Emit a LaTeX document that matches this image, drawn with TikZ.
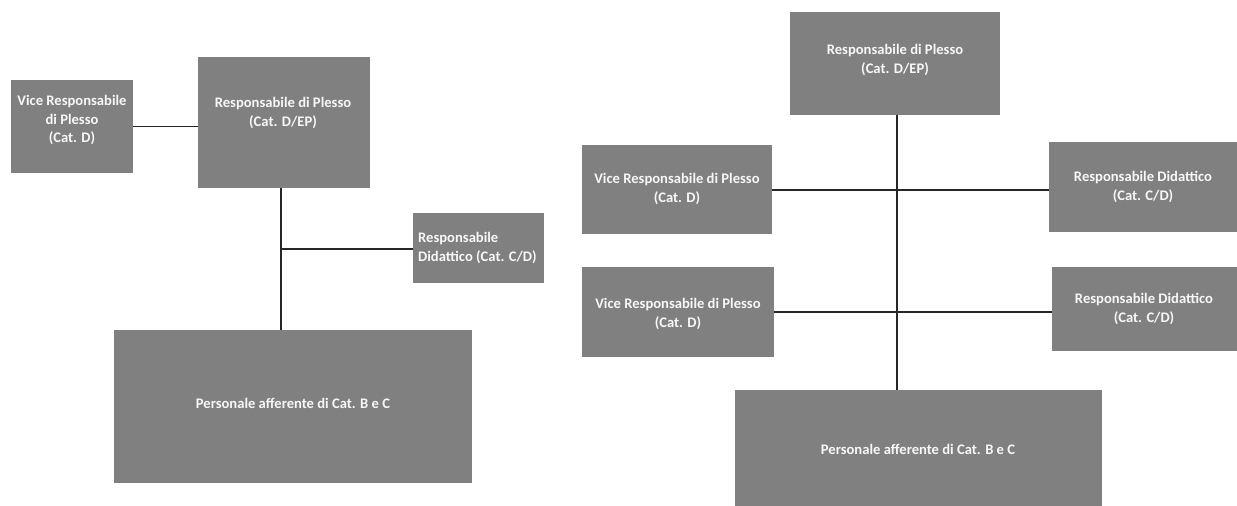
\documentclass[tikz,border=0pt]{standalone}
\usepackage{fontspec}
\setmainfont{Carlito}
\definecolor{boxgray}{HTML}{808080}
\definecolor{txtwhite}{HTML}{F7F7F7}
\begin{document}
\begin{tikzpicture}[x=1pt,y=-1pt,
  box/.style={fill=boxgray,draw=none,inner sep=0pt,outer sep=0pt},
  lbl/.style={text=txtwhite,font=\bfseries\fontsize{14.6}{18.5}\selectfont,align=center,inner sep=0pt},
  conn/.style={draw=black!85,line width=1.1pt}]
\useasboundingbox (0,0) rectangle (1237,506);
% ---------- left chart ----------
\node[box,minimum width=122pt,minimum height=93pt] (vL) at (72,126.5) {};
\node[box,minimum width=172pt,minimum height=131pt] (rL) at (284,122.5) {};
\node[box,minimum width=131pt,minimum height=70pt] (dL) at (478.5,248) {};
\node[box,minimum width=358pt,minimum height=153pt] (pL) at (293,406.5) {};
\coordinate (jL) at (281,249);
\draw[conn] (vL.east) -- (vL.east -| rL.west);
\draw[conn] (rL.south -| jL) -- (pL.north -| jL);
\draw[conn] (jL) -- (jL -| dL.west);
\node[lbl] (tvL) at (72,120) {Vice Responsabile\\di Plesso\\(Cat. D)};
\node[lbl] (trL) at (283,113) {Responsabile di Plesso\\(Cat. D/EP)};
\node[lbl,anchor=west,align=left] (tdL) at (418,248) {Responsabile\\Didattico (Cat. C/D)};
\node[lbl] (tpL) at (293,403) {Personale afferente di Cat. B e C};
% ---------- right chart ----------
\node[box,minimum width=210pt,minimum height=103pt] (rR) at (895,63.5) {};
\node[box,minimum width=190pt,minimum height=89pt] (v1) at (677,189.5) {};
\node[box,minimum width=188pt,minimum height=90pt] (d1) at (1143,187) {};
\node[box,minimum width=192pt,minimum height=90pt] (v2) at (678,312) {};
\node[box,minimum width=185pt,minimum height=84pt] (d2) at (1144.5,309) {};
\node[box,minimum width=367pt,minimum height=116pt] (pR) at (918.5,448) {};
\coordinate (jR) at (897,190);
\draw[conn] (rR.south -| jR) -- (pR.north -| jR);
\draw[conn] (v1.east |- jR) -- (jR -| d1.west);
\draw[conn] (v2.east) -- (v2.east -| d2.west);
\node[lbl] (trR) at (895,60) {Responsabile di Plesso\\(Cat. D/EP)};
\node[lbl] (tv1) at (677,189) {Vice Responsabile di Plesso\\(Cat. D)};
\node[lbl] (td1) at (1143,187) {Responsabile Didattico\\(Cat. C/D)};
\node[lbl] (tv2) at (678,314) {Vice Responsabile di Plesso\\(Cat. D)};
\node[lbl] (td2) at (1144,309) {Responsabile Didattico\\(Cat. C/D)};
\node[lbl] (tpR) at (918,449) {Personale afferente di Cat. B e C};
\end{tikzpicture}
\end{document}
